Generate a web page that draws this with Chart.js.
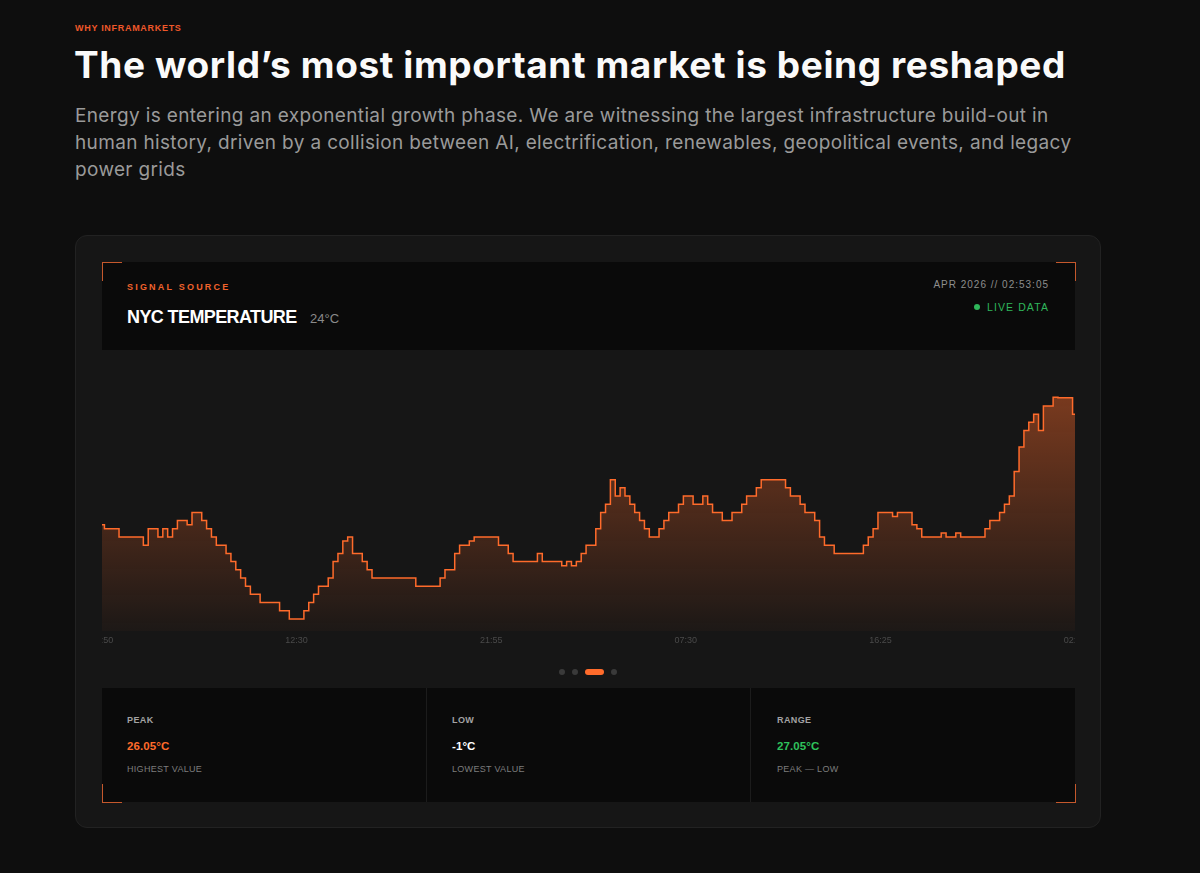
<!DOCTYPE html>
<html>
<head>
<meta charset="utf-8">
<script src="https://cdn.jsdelivr.net/npm/chart.js@4.4.1/dist/chart.umd.min.js"></script>
<style>
  html, body { margin: 0; padding: 0; }
  body { width: 1200px; height: 873px; background: #0e0e0e; position: relative; overflow: hidden; font-family: Inter, "Liberation Sans", sans-serif; }
  .abs { position: absolute; white-space: nowrap; }
  .eyebrow { left: 75px; top: 22px; font-size: 9px; line-height: 12px; font-weight: 700; letter-spacing: 0.7px; color: #f0582a; }
  .title { left: 74px; top: 40px; font-size: 37px; line-height: 50px; font-weight: 700; color: #fafafa; letter-spacing: 0.6px; }
  .lead { left: 75px; top: 102px; font-size: 19px; line-height: 27px; color: #9a9a9a; letter-spacing: 0.35px; }
  .card { left: 75px; top: 235px; width: 1024px; height: 591px; background: #161616; border: 1px solid #222; border-radius: 12px; }
  .panel { background: #0a0a0a; }
  .corner { position: absolute; width: 19px; height: 18px; border-color: #c5582c; border-style: solid; border-width: 0; }
  .lbl { font-family: "Liberation Sans", Arial, sans-serif; }
  .chartbox { left: 102px; top: 350px; width: 973px; height: 305px; overflow: hidden; }
  .dot { position: absolute; top: 669px; width: 6px; height: 6px; border-radius: 3px; background: #3a3a3a; }
  .stat-k { font-size: 9px; line-height: 12px; font-weight: 700; color: #a3a3a3; letter-spacing: 0.4px; }
  .stat-v { font-size: 11.5px; line-height: 14px; font-weight: 700; letter-spacing: 0.1px; }
  .stat-s { font-size: 9px; line-height: 12px; color: #7d7d7d; letter-spacing: 0.3px; }
</style>
</head>
<body>
<div class="abs eyebrow lbl">WHY INFRAMARKETS</div>
<div class="abs title">The world’s most important market is being reshaped</div>
<div class="abs lead">Energy is entering an exponential growth phase. We are witnessing the largest infrastructure build-out in<br>human history, driven by a collision between AI, electrification, renewables, geopolitical events, and legacy<br>power grids</div>

<div class="abs card"></div>
<div class="abs panel" style="left:102px; top:262px; width:973px; height:88px;"></div>
<div class="abs lbl" style="left:127px; top:281px; font-size:9px; line-height:12px; font-weight:700; letter-spacing:2.2px; color:#f0622c;">SIGNAL SOURCE</div>
<div class="abs lbl" style="left:127px; top:306px; font-size:18px; line-height:22px; font-weight:700; color:#fff; letter-spacing:-0.6px;">NYC TEMPERATURE</div>
<div class="abs lbl" style="left:310px; top:311px; font-size:13px; line-height:16px; color:#8a8a8a;">24°C</div>
<div class="abs lbl" style="right:151px; top:278px; font-size:10px; line-height:13px; color:#8e8e8e; letter-spacing:1px;">APR 2026 // 02:53:05</div>
<div class="abs lbl" style="right:151px; top:301px; font-size:10.5px; line-height:13px; color:#2fb65a; letter-spacing:1.1px;"><span style="display:inline-block; width:6px; height:6px; border-radius:3px; background:#2fb65a; margin-right:7px; vertical-align:1px;"></span>LIVE DATA</div>

<div class="abs chartbox"><canvas id="tempChart"></canvas></div>

<div class="dot" style="left:559px;"></div>
<div class="dot" style="left:572px;"></div>
<div class="dot" style="left:585px; width:19px; background:#ff6b2b;"></div>
<div class="dot" style="left:611px;"></div>

<div class="abs panel" style="left:102px; top:688px; width:973px; height:114px;"></div>
<div class="abs" style="left:426px; top:688px; width:1px; height:114px; background:#1c1c1c;"></div>
<div class="abs" style="left:750px; top:688px; width:1px; height:114px; background:#1c1c1c;"></div>

<div class="abs lbl stat-k" style="left:127px; top:714px;">PEAK</div>
<div class="abs lbl stat-v" style="left:127px; top:739px; color:#ff6b2b;">26.05°C</div>
<div class="abs lbl stat-s" style="left:127px; top:763px;">HIGHEST VALUE</div>

<div class="abs lbl stat-k" style="left:452px; top:714px;">LOW</div>
<div class="abs lbl stat-v" style="left:452px; top:739px; color:#fff;">-1°C</div>
<div class="abs lbl stat-s" style="left:452px; top:763px;">LOWEST VALUE</div>

<div class="abs lbl stat-k" style="left:777px; top:714px;">RANGE</div>
<div class="abs lbl stat-v" style="left:777px; top:739px; color:#2fc25c;">27.05°C</div>
<div class="abs lbl stat-s" style="left:777px; top:763px;">PEAK — LOW</div>

<div class="corner" style="left:102px; top:262px; border-left-width:1px; border-top-width:1px;"></div>
<div class="corner" style="left:1056px; top:262px; border-right-width:1px; border-top-width:1px;"></div>
<div class="corner" style="left:102px; top:784px; border-left-width:1px; border-bottom-width:1px;"></div>
<div class="corner" style="left:1056px; top:784px; border-right-width:1px; border-bottom-width:1px;"></div>

<script>
// NYC temperature readings (°C), oldest first
const temps = [
  10.5, 10, 10, 10, 9, 9, 9, 9, 9, 8,
  10, 10, 9, 10, 9, 10, 11, 11, 10.5, 12,
  12, 11, 10, 9, 8, 8, 7, 6, 5, 4,
  3, 2, 2, 1, 1, 1, 1, 0, 0, -1,
  -1, -1, 0, 1, 2, 3, 3, 4, 6, 7,
  8.5, 9, 7, 7, 6, 5, 4, 4, 4, 4,
  4, 4, 4, 4, 4, 3, 3, 3, 3, 3,
  4, 5, 5, 7, 8, 8, 8.5, 9, 9, 9,
  9, 9, 8, 8, 7, 6, 6, 6, 6, 6,
  7, 6, 6, 6, 6, 5.5, 6, 5.5, 6, 7,
  8, 8, 10, 12, 13, 16, 14, 15, 14, 13,
  12, 11, 10, 9, 9, 10, 11, 12, 12, 13,
  14, 14, 13, 13, 14, 13, 12, 12, 11, 11,
  12, 12, 13, 14, 14, 15, 16, 16, 16, 16,
  16, 15, 14, 14, 13, 12, 12, 11, 9, 8,
  8, 7, 7, 7, 7, 7, 7, 8, 9, 10,
  12, 12, 12, 11.5, 12, 12, 12, 10.5, 10, 9,
  9, 9, 9, 9.5, 9, 9, 9.5, 9, 9, 9,
  9, 9, 10, 11, 11, 12, 13, 14, 17, 20,
  22, 23, 24, 22, 25, 25, 26.05, 26, 26, 26,
  24
];
// tick labels shown under the chart, one every STEP readings
const tickLabels = ['02:50', '12:30', '21:55', '07:30', '16:25', '02:50'];
const STEP = 40;
const readings = temps.map((_, i) => i);

const ctx = document.getElementById('tempChart').getContext('2d');
new Chart(ctx, {
  type: 'line',
  data: {
    labels: readings,
    datasets: [{
      data: temps,
      borderColor: '#ff6b2b',
      borderWidth: 1.5,
      pointRadius: 0,
      stepped: 'middle',
      fill: 'start',
      backgroundColor: (c) => {
        const area = c.chart.chartArea;
        if (!area) return 'rgba(255,107,43,0.2)';
        const g = c.chart.ctx.createLinearGradient(0, area.top, 0, area.bottom);
        g.addColorStop(0, 'rgba(255,107,43,0.48)');
        g.addColorStop(1, 'rgba(255,107,43,0.03)');
        return g;
      }
    }]
  },
  options: {
    responsive: true,
    maintainAspectRatio: false,
    animation: false,
    layout: { padding: { top: 15, bottom: 5 } },
    plugins: { legend: { display: false }, tooltip: { enabled: false } },
    scales: {
      x: {
        grid: { display: false, drawTicks: false },
        border: { display: false },
        ticks: {
          autoSkip: false,
          maxRotation: 0,
          minRotation: 0,
          padding: 4,
          color: '#4a4a4a',
          font: { family: 'Liberation Sans', size: 9 },
          callback: (v, i) => (i % STEP === 0 ? tickLabels[i / STEP] : null)
        },
        afterFit: (scale) => { scale.paddingLeft = 0; scale.paddingRight = 0; }
      },
      y: {
        display: false,
        min: -2.5,
        max: 30
      }
    }
  }
});
</script>
</body>
</html>
